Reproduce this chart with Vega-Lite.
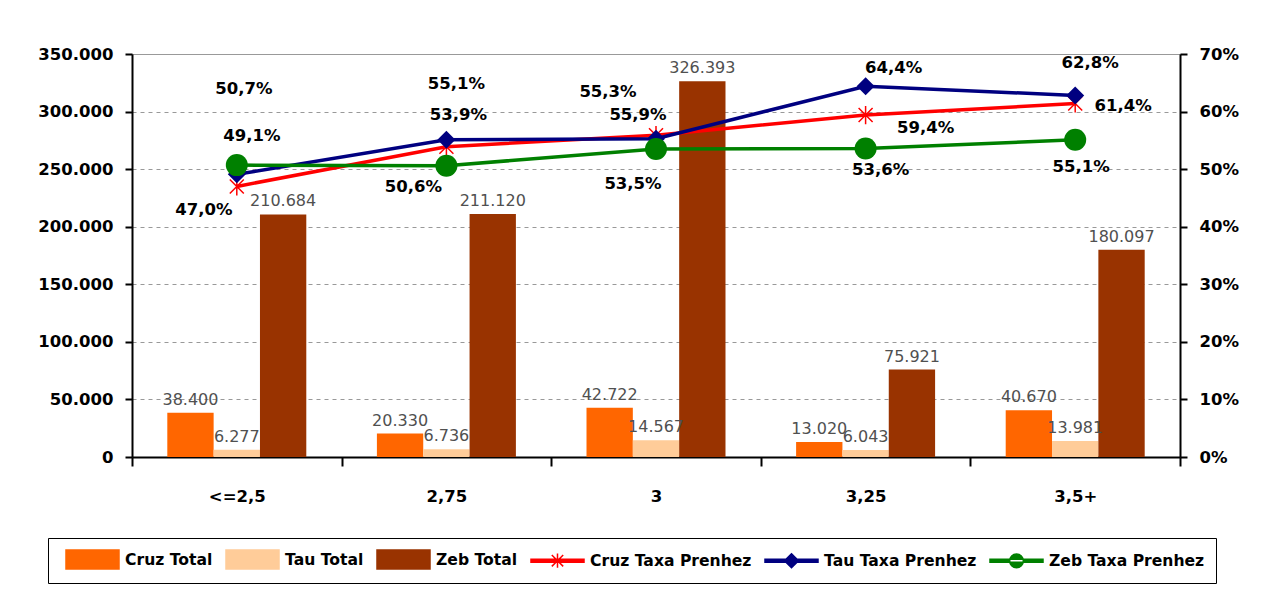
{
  "$schema": "https://vega.github.io/schema/vega-lite/v6.json",
  "width": 1048,
  "height": 403,
  "autosize": {"type": "none"},
  "padding": {"left": 132, "top": 54, "right": 83, "bottom": 142},
  "background": "white",
  "config": {
    "locale": {"number": {"decimal": ",", "thousands": ".", "grouping": [3], "currency": ["R$", ""]}},
    "view": {"stroke": "#999999", "strokeWidth": 1},
    "font": "DejaVu Sans",
    "axis": {
      "labelFont": "DejaVu Sans", "labelFontSize": 16.5, "labelFontWeight": "bold", "labelColor": "black",
      "domainColor": "black", "domainWidth": 2, "tickColor": "black", "tickWidth": 2
    }
  },
  "datasets": {
    "bars": [
      {"cat": "<=2,5", "series": "Cruz Total", "value": 38400},
      {"cat": "<=2,5", "series": "Tau Total", "value": 6277},
      {"cat": "<=2,5", "series": "Zeb Total", "value": 210684},
      {"cat": "2,75", "series": "Cruz Total", "value": 20330},
      {"cat": "2,75", "series": "Tau Total", "value": 6736},
      {"cat": "2,75", "series": "Zeb Total", "value": 211120},
      {"cat": "3", "series": "Cruz Total", "value": 42722},
      {"cat": "3", "series": "Tau Total", "value": 14567},
      {"cat": "3", "series": "Zeb Total", "value": 326393},
      {"cat": "3,25", "series": "Cruz Total", "value": 13020},
      {"cat": "3,25", "series": "Tau Total", "value": 6043},
      {"cat": "3,25", "series": "Zeb Total", "value": 75921},
      {"cat": "3,5+", "series": "Cruz Total", "value": 40670},
      {"cat": "3,5+", "series": "Tau Total", "value": 13981},
      {"cat": "3,5+", "series": "Zeb Total", "value": 180097}
    ],
    "rates": [
      {"cat": "<=2,5", "series": "Cruz Taxa Prenhez", "rate": 0.470},
      {"cat": "2,75", "series": "Cruz Taxa Prenhez", "rate": 0.539},
      {"cat": "3", "series": "Cruz Taxa Prenhez", "rate": 0.559},
      {"cat": "3,25", "series": "Cruz Taxa Prenhez", "rate": 0.594},
      {"cat": "3,5+", "series": "Cruz Taxa Prenhez", "rate": 0.614},
      {"cat": "<=2,5", "series": "Tau Taxa Prenhez", "rate": 0.491},
      {"cat": "2,75", "series": "Tau Taxa Prenhez", "rate": 0.551},
      {"cat": "3", "series": "Tau Taxa Prenhez", "rate": 0.553},
      {"cat": "3,25", "series": "Tau Taxa Prenhez", "rate": 0.644},
      {"cat": "3,5+", "series": "Tau Taxa Prenhez", "rate": 0.628},
      {"cat": "<=2,5", "series": "Zeb Taxa Prenhez", "rate": 0.507},
      {"cat": "2,75", "series": "Zeb Taxa Prenhez", "rate": 0.506},
      {"cat": "3", "series": "Zeb Taxa Prenhez", "rate": 0.535},
      {"cat": "3,25", "series": "Zeb Taxa Prenhez", "rate": 0.536},
      {"cat": "3,5+", "series": "Zeb Taxa Prenhez", "rate": 0.551}
    ]
  },
  "layer": [
    {
      "data": {"name": "bars"},
      "layer": [
        {
          "mark": {"type": "bar"},
          "encoding": {
            "x": {"field": "cat", "type": "nominal", "sort": ["<=2,5", "2,75", "3", "3,25", "3,5+"],
                  "scale": {"paddingInner": 0, "paddingOuter": 0},
                  "axis": {"title": null, "labelAngle": 0, "tickBand": "extent", "tickSize": 9, "labelPadding": 22, "grid": false}},
            "xOffset": {"field": "series", "type": "nominal", "scale": {"paddingInner": 0, "paddingOuter": 0.762}},
            "y": {"field": "value", "type": "quantitative", "scale": {"domain": [0, 350000], "nice": false},
                  "axis": {"title": null, "orient": "left", "values": [0, 50000, 100000, 150000, 200000, 250000, 300000, 350000],
                           "format": ",.0f", "grid": true, "gridDash": [4, 4], "gridColor": "#999999", "gridWidth": 1,
                           "tickSize": 7, "labelPadding": 12}},
            "color": {
              "field": "series", "type": "nominal",
              "scale": {
                "domain": ["Cruz Total", "Tau Total", "Zeb Total", "Cruz Taxa Prenhez", "Tau Taxa Prenhez", "Zeb Taxa Prenhez"],
                "range": ["#FF6600", "#FFCC99", "#993300", "#FF0000", "#000080", "#008000"]
              },
              "legend": {
                "title": null, "orient": "none", "legendX": -84, "legendY": 484, "direction": "horizontal", "columns": 6,
                "labelFont": "DejaVu Sans", "labelFontSize": 15.6, "labelFontWeight": "bold", "labelColor": "black", "labelLimit": 400,
                "symbolSize": 361, "symbolOffset": 23, "labelOffset": 22, "columnPadding": 6, "padding": 11,
                "strokeColor": "black", "fillColor": "white",
                "encode": {
                  "symbols": {
                    "update": {
                      "shape": {"signal": "datum.value == 'Cruz Taxa Prenhez' ? 'M-2.79,-0.16H2.79V0.16H-2.79ZM-0.6,-0.6L0.6,0.6M-0.6,0.6L0.6,-0.6M0,-0.75V0.75' : datum.value == 'Tau Taxa Prenhez' ? 'M-2.79,-0.16H2.79V0.16H-2.79ZM0,-0.74L0.74,0L0,0.74L-0.74,0Z' : datum.value == 'Zeb Taxa Prenhez' ? 'M-2.79,-0.16H2.79V0.16H-2.79ZM-0.72,0A0.72,0.72,0,1,0,0.72,0A0.72,0.72,0,1,0,-0.72,0Z' : 'M-2.79,-1H2.79V1H-2.79Z'"},
                      "fill": {"scale": "color", "field": "value"},
                      "stroke": {"scale": "color", "field": "value"},
                      "strokeWidth": {"value": 1.5},
                      "opacity": {"value": 1}
                    }
                  }
                }
              }
            }
          }
        },
        {
          "mark": {"type": "text", "baseline": "alphabetic", "dy": -8, "font": "DejaVu Sans", "fontSize": 16, "color": "#505050"},
          "encoding": {
            "x": {"field": "cat", "type": "nominal", "sort": ["<=2,5", "2,75", "3", "3,25", "3,5+"], "title": null},
            "xOffset": {"field": "series", "type": "nominal"},
            "y": {"field": "value", "type": "quantitative", "title": null},
            "text": {"field": "value", "type": "quantitative", "format": ",.0f"}
          }
        }
      ]
    },
    {
      "data": {"name": "rates"},
      "layer": [
        {
          "mark": {"type": "line", "strokeWidth": 3.5},
          "encoding": {
            "x": {"field": "cat", "type": "nominal", "sort": ["<=2,5", "2,75", "3", "3,25", "3,5+"], "title": null},
            "y": {"field": "rate", "type": "quantitative", "scale": {"domain": [0, 0.7], "nice": false},
                  "axis": {"title": null, "orient": "right", "values": [0, 0.1, 0.2, 0.3, 0.4, 0.5, 0.6, 0.7], "format": ".0%",
                           "grid": false, "tickSize": 7, "labelPadding": 12}},
            "color": {"field": "series", "type": "nominal", "legend": null}
          }
        },
        {
          "transform": [{"filter": "datum.series == 'Cruz Taxa Prenhez'"}],
          "mark": {"type": "point", "shape": "M-1,-1L1,1M-1,1L1,-1M0,-1.3L0,1.3", "filled": false, "strokeWidth": 1.5, "size": 196, "opacity": 1},
          "encoding": {
            "x": {"field": "cat", "type": "nominal", "sort": ["<=2,5", "2,75", "3", "3,25", "3,5+"], "title": null},
            "y": {"field": "rate", "type": "quantitative", "title": null},
            "color": {"field": "series", "type": "nominal", "legend": null}
          }
        },
        {
          "transform": [{"filter": "datum.series == 'Tau Taxa Prenhez'"}],
          "mark": {"type": "point", "shape": "diamond", "filled": true, "size": 324, "opacity": 1},
          "encoding": {
            "x": {"field": "cat", "type": "nominal", "sort": ["<=2,5", "2,75", "3", "3,25", "3,5+"], "title": null},
            "y": {"field": "rate", "type": "quantitative", "title": null},
            "color": {"field": "series", "type": "nominal", "legend": null}
          }
        },
        {
          "transform": [{"filter": "datum.series == 'Zeb Taxa Prenhez'"}],
          "mark": {"type": "point", "shape": "circle", "filled": true, "size": 484, "opacity": 1},
          "encoding": {
            "x": {"field": "cat", "type": "nominal", "sort": ["<=2,5", "2,75", "3", "3,25", "3,5+"], "title": null},
            "y": {"field": "rate", "type": "quantitative", "title": null},
            "color": {"field": "series", "type": "nominal", "legend": null}
          }
        },
        {
          "transform": [{"filter": "datum.series == 'Cruz Taxa Prenhez'"}],
          "mark": {"type": "text", "baseline": "middle", "font": "DejaVu Sans", "fontSize": 16.5, "fontWeight": "bold", "color": "black",
                   "dx": {"expr": "[-33, 12, -18, 60, 48][indexof(['<=2,5','2,75','3','3,25','3,5+'], datum.cat)]"},
                   "dy": {"expr": "[24, -32, -20, 13, 2][indexof(['<=2,5','2,75','3','3,25','3,5+'], datum.cat)]"}},
          "encoding": {
            "x": {"field": "cat", "type": "nominal", "sort": ["<=2,5", "2,75", "3", "3,25", "3,5+"], "title": null},
            "y": {"field": "rate", "type": "quantitative", "title": null},
            "text": {"field": "rate", "type": "quantitative", "format": ".1%"}
          }
        },
        {
          "transform": [{"filter": "datum.series == 'Tau Taxa Prenhez'"}],
          "mark": {"type": "text", "baseline": "middle", "font": "DejaVu Sans", "fontSize": 16.5, "fontWeight": "bold", "color": "black",
                   "dx": {"expr": "[15, 10, -48, 28, 15][indexof(['<=2,5','2,75','3','3,25','3,5+'], datum.cat)]"},
                   "dy": {"expr": "[-38, -56, -47, -18, -32][indexof(['<=2,5','2,75','3','3,25','3,5+'], datum.cat)]"}},
          "encoding": {
            "x": {"field": "cat", "type": "nominal", "sort": ["<=2,5", "2,75", "3", "3,25", "3,5+"], "title": null},
            "y": {"field": "rate", "type": "quantitative", "title": null},
            "text": {"field": "rate", "type": "quantitative", "format": ".1%"}
          }
        },
        {
          "transform": [{"filter": "datum.series == 'Zeb Taxa Prenhez'"}],
          "mark": {"type": "text", "baseline": "middle", "font": "DejaVu Sans", "fontSize": 16.5, "fontWeight": "bold", "color": "black",
                   "dx": {"expr": "[7, -33, -23, 15, 6][indexof(['<=2,5','2,75','3','3,25','3,5+'], datum.cat)]"},
                   "dy": {"expr": "[-76, 21, 35, 22, 27][indexof(['<=2,5','2,75','3','3,25','3,5+'], datum.cat)]"}},
          "encoding": {
            "x": {"field": "cat", "type": "nominal", "sort": ["<=2,5", "2,75", "3", "3,25", "3,5+"], "title": null},
            "y": {"field": "rate", "type": "quantitative", "title": null},
            "text": {"field": "rate", "type": "quantitative", "format": ".1%"}
          }
        }
      ]
    }
  ],
  "resolve": {"scale": {"y": "independent"}}
}
